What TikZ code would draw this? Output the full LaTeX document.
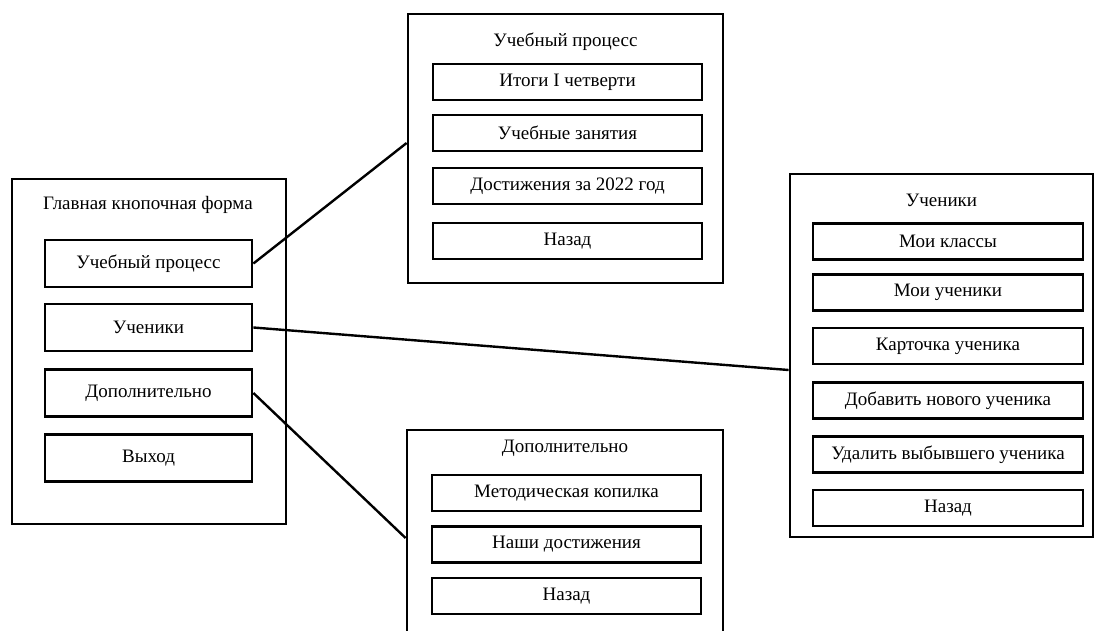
\documentclass[tikz,border=0pt]{standalone}
\usepackage{fontspec}
\setmainfont{Liberation Serif}
\usetikzlibrary{calc}
\begin{document}
\begin{tikzpicture}[x=1pt,y=-1pt,
  frame/.style={draw, line width=2.8pt, rectangle, inner sep=0pt},
  btn/.style={draw, line width=2.8pt, rectangle, inner sep=0pt, minimum height=36pt, minimum width=269pt, font=\fontsize{19}{22}\selectfont},
  ttl/.style={inner sep=0pt, font=\fontsize{19}{22}\selectfont},
  link/.style={line width=2.4pt}]
\useasboundingbox (0,0) rectangle (1095,630);
\clip (0,0) rectangle (1095,630);
% main form
\node[frame, minimum width=274pt, minimum height=345pt] (main) at (149,351.5) {};
\node[ttl] (mt) at (148,205) {Главная кнопочная форма};
\node[btn, minimum width=207pt, minimum height=47pt] (m1) at (148.5,263.5) {Учебный процесс};
\node[btn, minimum width=207pt, minimum height=47pt] (m2) at (148.5,327.5) {Ученики};
\node[btn, minimum width=207pt, minimum height=47pt] (m3) at (148.5,393) {Дополнительно};
\node[btn, minimum width=207pt, minimum height=47pt] (m4) at (148.5,458) {Выход};
% top
\node[frame, minimum width=315pt, minimum height=269pt] (top) at (565.5,148.5) {};
\node[ttl] (tt) at (565.5,42) {Учебный процесс};
\node[btn] (t1) at (567.5,82) {Итоги I четверти};
\node[btn] (t2) at (567.5,133) {Учебные занятия};
\node[btn] (t3) at (567.5,186) {Достижения за 2022 год};
\node[btn] (t4) at (567.5,241) {Назад};
% bottom
\node[frame, minimum width=316pt, minimum height=216pt] (bot) at (565,538) {};
\node[ttl] (bt) at (565,448) {Дополнительно};
\node[btn] (b1) at (566.5,493) {Методическая копилка};
\node[btn] (b2) at (566.5,544.5) {Наши достижения};
\node[btn] (b3) at (566.5,596) {Назад};
% right
\node[frame, minimum width=303pt, minimum height=363pt] (rgt) at (941.5,355.5) {};
\node[ttl] (rt) at (941.5,200) {Ученики};
\node[btn, minimum width=270pt] (r1) at (948,241.5) {Мои классы};
\node[btn, minimum width=270pt] (r2) at (948,292.5) {Мои ученики};
\node[btn, minimum width=270pt] (r3) at (948,346) {Карточка ученика};
\node[btn, minimum width=270pt] (r4) at (948,400.5) {Добавить нового ученика};
\node[btn, minimum width=270pt] (r5) at (948,454.5) {Удалить выбывшего ученика};
\node[btn, minimum width=270pt] (r6) at (948,508) {Назад};
% links
\draw[link] (m1.east) -- ($(top.west)+(0,-5.5)$);
\draw[link] (m2.east) -- ($(rgt.west)+(0,14.5)$);
\draw[link] (m3.east) -- (bot.west);
\end{tikzpicture}
\end{document}
